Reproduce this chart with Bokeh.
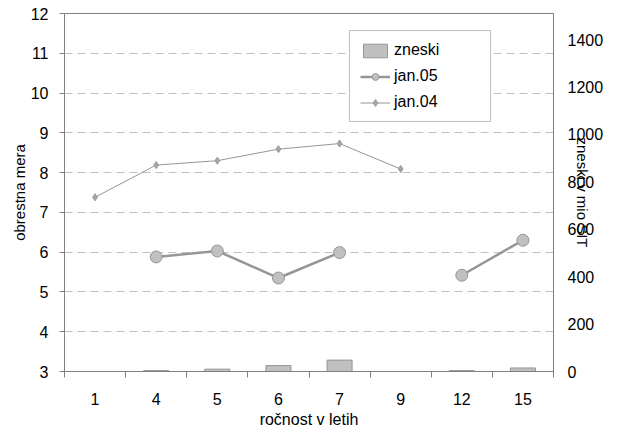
import math
from bokeh.plotting import figure
from bokeh.models import (Range1d, LinearAxis, FixedTicker, Legend, LegendItem)
from bokeh.embed import file_html
from bokeh.resources import INLINE

categories = ["1", "4", "5", "6", "7", "9", "12", "15"]
jan04 = [7.38, 8.19, 8.30, 8.59, 8.73, 8.09, math.nan, math.nan]
jan05 = [math.nan, 5.88, 6.03, 5.35, 5.99, math.nan, 5.42, 6.30]
zneski = [0, 4, 10, 25, 48, 0, 4, 15]

left_ticks = [3, 4, 5, 6, 7, 8, 9, 10, 11, 12]
right_ticks = [0, 200, 400, 600, 800, 1000, 1200, 1400]

FONT = "Liberation Sans"
AX = "#808080"
GRAY = "#969696"
LIGHT = "#c0c0c0"

xs = [i + 0.5 for i in range(len(categories))]

p = figure(width=625, height=430, output_backend="svg", toolbar_location=None,
           x_range=Range1d(0, len(categories)), y_range=Range1d(3, 12),
           min_border_left=64, min_border_right=72, min_border_top=13, min_border_bottom=59)
p.extra_y_ranges = {"right": Range1d(0, 1510)}
p.outline_line_color = AX
p.background_fill_color = "white"
p.border_fill_color = "white"

# x axis
xt = FixedTicker(ticks=xs, minor_ticks=list(range(len(categories) + 1)))
p.xaxis.ticker = xt
p.xaxis.major_label_overrides = {x: c for x, c in zip(xs, categories)}
p.xaxis.major_tick_line_color = None
p.xaxis.major_tick_out = 6
p.xaxis.major_tick_in = 0
p.xaxis.minor_tick_line_color = AX
p.xaxis.minor_tick_out = 6
p.xaxis.minor_tick_in = 0
p.xaxis.major_label_standoff = 15
p.xaxis.axis_label = "ročnost v letih"
p.xaxis.axis_label_standoff = 3
p.xgrid.visible = False

# left axis
p.yaxis.ticker = FixedTicker(ticks=left_ticks)
p.yaxis.minor_tick_line_color = None
p.yaxis.major_tick_out = 5
p.yaxis.major_tick_in = 0
p.yaxis.major_tick_line_color = AX
p.yaxis.major_label_standoff = 11
p.yaxis.axis_label = "obrestna mera"
p.yaxis.axis_label_standoff = 0
p.ygrid.ticker = FixedTicker(ticks=left_ticks)
p.ygrid.grid_line_color = LIGHT
p.ygrid.grid_line_dash = "8 5"

# right axis
ra = LinearAxis(y_range_name="right", ticker=FixedTicker(ticks=right_ticks),
                axis_label="zneski v mio SIT")
ra.major_tick_line_color = None
ra.minor_tick_line_color = None
ra.major_tick_out = 0
ra.major_label_standoff = 14
ra.axis_label_standoff = -32
p.add_layout(ra, "right")

for ax in [p.xaxis[0], p.yaxis[0], ra]:
    ax.axis_line_color = AX
    ax.major_label_text_font = FONT
    ax.major_label_text_font_size = "16px"
    ax.major_label_text_color = "black"
    ax.axis_label_text_font = FONT
    ax.axis_label_text_font_size = "15px"
    ax.axis_label_text_font_style = "normal"
    ax.axis_label_text_color = "black"
p.xaxis.axis_label_text_font_size = "16px"

bars = p.vbar(x=xs, top=zneski, width=0.41, bottom=0, y_range_name="right",
              fill_color=LIGHT, line_color=GRAY, line_width=1)
l05 = p.line(xs, jan05, line_color=GRAY, line_width=2.5)
m05 = p.scatter(xs, jan05, marker="circle", size=12, fill_color=LIGHT, line_color=GRAY, line_width=1)
l04 = p.line(xs, jan04, line_color=GRAY, line_width=1)
m04 = p.scatter(xs, jan04, marker="diamond", size=7, fill_color="#a8a8a8", line_color=GRAY, line_width=1)

legend = Legend(items=[LegendItem(label="zneski", renderers=[bars]),
                       LegendItem(label="jan.05", renderers=[l05, m05]),
                       LegendItem(label="jan.04", renderers=[l04, m04])],
                location=(285, 249), orientation="vertical")
legend.border_line_color = AX
legend.background_fill_color = "white"
legend.background_fill_alpha = 1
legend.label_text_font = FONT
legend.label_text_font_size = "16px"
legend.label_text_color = "black"
legend.padding = 10
legend.spacing = 8
legend.margin = 0
legend.label_height = 17
legend.glyph_height = 17
legend.glyph_width = 30
legend.label_standoff = 4
legend.label_width = 86
p.add_layout(legend, "center")

open("out.html", "w").write(file_html(p, INLINE))
